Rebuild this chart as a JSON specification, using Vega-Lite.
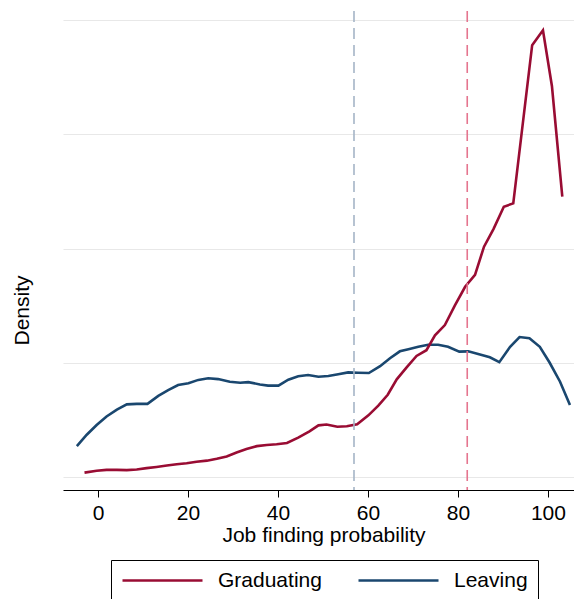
{
  "$schema": "https://vega.github.io/schema/vega-lite/v6.json",
  "width": 511,
  "height": 479,
  "autosize": {"type": "none"},
  "padding": {"left": 63, "top": 11, "right": 0, "bottom": 109},
  "background": "white",
  "config": {
    "view": {"stroke": null},
    "font": "Liberation Sans"
  },
  "layer": [
    {
      "data": {
        "values": [
          {"group": "Leaving", "prob": -4.7, "density": 0.0027},
          {"group": "Leaving", "prob": -2.5, "density": 0.0037},
          {"group": "Leaving", "prob": -0.3, "density": 0.00455},
          {"group": "Leaving", "prob": 1.9, "density": 0.0053},
          {"group": "Leaving", "prob": 4.2, "density": 0.0059},
          {"group": "Leaving", "prob": 6.4, "density": 0.00636},
          {"group": "Leaving", "prob": 8.6, "density": 0.0064},
          {"group": "Leaving", "prob": 11.0, "density": 0.0064},
          {"group": "Leaving", "prob": 13.4, "density": 0.0071},
          {"group": "Leaving", "prob": 15.6, "density": 0.0076},
          {"group": "Leaving", "prob": 17.8, "density": 0.00805},
          {"group": "Leaving", "prob": 20.1, "density": 0.0082},
          {"group": "Leaving", "prob": 22.3, "density": 0.0085},
          {"group": "Leaving", "prob": 24.5, "density": 0.00864},
          {"group": "Leaving", "prob": 26.7, "density": 0.00857},
          {"group": "Leaving", "prob": 29.3, "density": 0.00834},
          {"group": "Leaving", "prob": 31.6, "density": 0.00825},
          {"group": "Leaving", "prob": 33.4, "density": 0.0083},
          {"group": "Leaving", "prob": 36.0, "density": 0.0081},
          {"group": "Leaving", "prob": 37.8, "density": 0.008},
          {"group": "Leaving", "prob": 40.1, "density": 0.008},
          {"group": "Leaving", "prob": 42.3, "density": 0.00852},
          {"group": "Leaving", "prob": 44.5, "density": 0.00882},
          {"group": "Leaving", "prob": 46.7, "density": 0.00893},
          {"group": "Leaving", "prob": 49.0, "density": 0.00878},
          {"group": "Leaving", "prob": 51.2, "density": 0.00884},
          {"group": "Leaving", "prob": 53.4, "density": 0.009},
          {"group": "Leaving", "prob": 55.6, "density": 0.00916},
          {"group": "Leaving", "prob": 57.8, "density": 0.00913},
          {"group": "Leaving", "prob": 60.2, "density": 0.0091},
          {"group": "Leaving", "prob": 62.7, "density": 0.0097},
          {"group": "Leaving", "prob": 64.9, "density": 0.0104},
          {"group": "Leaving", "prob": 67.1, "density": 0.011},
          {"group": "Leaving", "prob": 69.0, "density": 0.01118},
          {"group": "Leaving", "prob": 71.2, "density": 0.0114},
          {"group": "Leaving", "prob": 73.4, "density": 0.01158},
          {"group": "Leaving", "prob": 75.6, "density": 0.01158},
          {"group": "Leaving", "prob": 77.8, "density": 0.0114},
          {"group": "Leaving", "prob": 80.3, "density": 0.01097},
          {"group": "Leaving", "prob": 82.3, "density": 0.011},
          {"group": "Leaving", "prob": 84.5, "density": 0.01077},
          {"group": "Leaving", "prob": 87.1, "density": 0.01048},
          {"group": "Leaving", "prob": 89.2, "density": 0.01005},
          {"group": "Leaving", "prob": 91.6, "density": 0.0114},
          {"group": "Leaving", "prob": 93.7, "density": 0.01225},
          {"group": "Leaving", "prob": 95.9, "density": 0.01215},
          {"group": "Leaving", "prob": 98.2, "density": 0.0114},
          {"group": "Leaving", "prob": 100.4, "density": 0.01},
          {"group": "Leaving", "prob": 102.7, "density": 0.00834},
          {"group": "Leaving", "prob": 104.9, "density": 0.0063},
          {"group": "Graduating", "prob": -3.0, "density": 0.00038},
          {"group": "Graduating", "prob": -0.3, "density": 0.00055},
          {"group": "Graduating", "prob": 1.9, "density": 0.00062},
          {"group": "Graduating", "prob": 4.2, "density": 0.00062},
          {"group": "Graduating", "prob": 6.4, "density": 0.0006},
          {"group": "Graduating", "prob": 8.6, "density": 0.00066},
          {"group": "Graduating", "prob": 10.8, "density": 0.00078},
          {"group": "Graduating", "prob": 13.0, "density": 0.00088},
          {"group": "Graduating", "prob": 15.3, "density": 0.001},
          {"group": "Graduating", "prob": 17.5, "density": 0.00112},
          {"group": "Graduating", "prob": 19.7, "density": 0.0012},
          {"group": "Graduating", "prob": 21.9, "density": 0.00134},
          {"group": "Graduating", "prob": 24.2, "density": 0.00143},
          {"group": "Graduating", "prob": 26.4, "density": 0.0016},
          {"group": "Graduating", "prob": 28.6, "density": 0.0018},
          {"group": "Graduating", "prob": 30.8, "density": 0.00215},
          {"group": "Graduating", "prob": 33.0, "density": 0.00245},
          {"group": "Graduating", "prob": 35.3, "density": 0.0027},
          {"group": "Graduating", "prob": 37.5, "density": 0.0028},
          {"group": "Graduating", "prob": 39.7, "density": 0.00287},
          {"group": "Graduating", "prob": 42.0, "density": 0.00298},
          {"group": "Graduating", "prob": 44.5, "density": 0.00345},
          {"group": "Graduating", "prob": 47.0, "density": 0.004},
          {"group": "Graduating", "prob": 49.0, "density": 0.00452},
          {"group": "Graduating", "prob": 50.8, "density": 0.0046},
          {"group": "Graduating", "prob": 53.2, "density": 0.0044},
          {"group": "Graduating", "prob": 55.3, "density": 0.00444},
          {"group": "Graduating", "prob": 57.6, "density": 0.00462},
          {"group": "Graduating", "prob": 60.1, "density": 0.0054},
          {"group": "Graduating", "prob": 62.3, "density": 0.00625},
          {"group": "Graduating", "prob": 64.4, "density": 0.0072},
          {"group": "Graduating", "prob": 66.4, "density": 0.00855},
          {"group": "Graduating", "prob": 68.6, "density": 0.0096},
          {"group": "Graduating", "prob": 70.8, "density": 0.0106},
          {"group": "Graduating", "prob": 73.0, "density": 0.0111},
          {"group": "Graduating", "prob": 74.9, "density": 0.0124},
          {"group": "Graduating", "prob": 77.1, "density": 0.0133},
          {"group": "Graduating", "prob": 79.3, "density": 0.015},
          {"group": "Graduating", "prob": 81.6, "density": 0.01665},
          {"group": "Graduating", "prob": 83.8, "density": 0.0177},
          {"group": "Graduating", "prob": 85.8, "density": 0.02016},
          {"group": "Graduating", "prob": 87.9, "density": 0.0217},
          {"group": "Graduating", "prob": 90.2, "density": 0.02366},
          {"group": "Graduating", "prob": 92.3, "density": 0.02395},
          {"group": "Graduating", "prob": 96.5, "density": 0.0378},
          {"group": "Graduating", "prob": 98.9, "density": 0.0391},
          {"group": "Graduating", "prob": 100.9, "density": 0.0342},
          {"group": "Graduating", "prob": 103.2, "density": 0.02455}
        ]
      },
      "mark": {"type": "line", "strokeWidth": 2.6},
      "encoding": {
        "x": {
          "field": "prob",
          "type": "quantitative",
          "scale": {"domain": [-7.78, 105.8], "nice": false, "zero": false},
          "axis": {
            "values": [0, 20, 40, 60, 80, 100],
            "grid": false,
            "title": "Job finding probability",
            "domainColor": "black",
            "domainWidth": 1,
            "tickColor": "black",
            "tickWidth": 1,
            "tickSize": 7,
            "labelFontSize": 21,
            "labelColor": "black",
            "labelBaseline": "alphabetic",
            "labelPadding": 22,
            "labelFont": "Liberation Sans",
            "titleFont": "Liberation Sans",
            "titleFontSize": 21,
            "titleFontWeight": "normal",
            "titleColor": "black",
            "titleBaseline": "alphabetic",
            "titleAlign": "center",
            "titleX": 260.5,
            "titleY": 51.7
          }
        },
        "y": {
          "field": "density",
          "type": "quantitative",
          "scale": {"domain": [-0.001138, 0.04079], "nice": false, "zero": false},
          "axis": {
            "values": [0, 0.01, 0.02, 0.03, 0.04],
            "labels": false,
            "ticks": false,
            "domain": false,
            "grid": true,
            "gridColor": "#e8e8e8",
            "gridWidth": 1.2,
            "title": "Density",
            "titleFont": "Liberation Sans",
            "titleFontSize": 21,
            "titleFontWeight": "normal",
            "titleColor": "black",
            "titleAngle": 270,
            "titleBaseline": "alphabetic",
            "titleAlign": "center",
            "titleX": -34.5,
            "titleY": 299
          }
        },
        "color": {
          "field": "group",
          "type": "nominal",
          "scale": {"domain": ["Graduating", "Leaving"], "range": ["#990c33", "#1a476f"]},
          "legend": {
            "title": null,
            "orient": "none",
            "legendX": 48,
            "legendY": 549,
            "direction": "horizontal",
            "symbolType": "stroke",
            "symbolSize": 6400,
            "symbolStrokeWidth": 2.6,
            "clipHeight": 21,
            "labelFont": "Liberation Sans",
            "labelFontSize": 21,
            "labelColor": "black",
            "labelOffset": 14,
            "columnPadding": 35,
            "padding": 10,
            "strokeColor": "black"
          }
        }
      }
    },
    {
      "data": {"values": [{"line": "Leaving mean", "prob": 56.9}]},
      "mark": {"type": "rule", "color": "#a5b5c7", "strokeWidth": 1.6, "strokeDash": [11, 6]},
      "encoding": {"x": {"field": "prob", "type": "quantitative"}}
    },
    {
      "data": {"values": [{"line": "Graduating mean", "prob": 82.07}]},
      "mark": {"type": "rule", "color": "#e5758f", "strokeWidth": 1.6, "strokeDash": [11, 6]},
      "encoding": {"x": {"field": "prob", "type": "quantitative"}}
    }
  ]
}
